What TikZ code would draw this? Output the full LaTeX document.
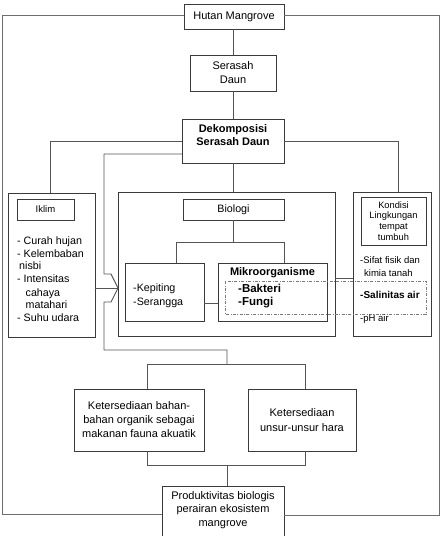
\documentclass[tikz,border=0pt]{standalone}
\usepackage{fontspec}
\setmainfont{Liberation Sans}
\definecolor{boxc}{HTML}{3A3A3A}
\definecolor{linec}{HTML}{555555}
\definecolor{framec}{HTML}{6E6E6E}
\definecolor{dashc}{HTML}{7A7A7A}
\begin{document}
\begin{tikzpicture}[x=1pt,y=-1pt,
  box/.style={draw=boxc, line width=0.9pt, inner sep=0pt, align=center,
    font=\fontsize{11}{14}\selectfont},
  conn/.style={draw=linec, line width=0.9pt},
  frame/.style={draw=framec, line width=0.9pt},
  lst/.style={inner sep=0pt, anchor=west, text height=7.5pt, text depth=2pt,
    font=\fontsize{10.7}{12}\selectfont},
  sml/.style={inner sep=0pt, anchor=west, text height=7pt, text depth=2pt,
    font=\fontsize{9.5}{11}\selectfont},
  lbl/.style={inner sep=0pt, align=center}
]
\useasboundingbox (0,0) rectangle (442,536);
\clip (0,0) rectangle (442,536);

% boxes
\node[box, minimum width=100pt, minimum height=25pt] (hutan) at (234,16.5) {Hutan Mangrove};
\node[box, minimum width=86pt, minimum height=36pt] (serasah) at (233,73) {Serasah\\Daun};
\node[box, minimum width=102pt, minimum height=44pt] (dekomp) at (233,141) {};
\node[lbl, font=\fontsize{11}{13}\selectfont\bfseries] (dekompt) at (233,135.5) {Dekomposisi\\Serasah Daun};

\node[box, minimum width=87pt, minimum height=144pt] (iklimo) at (51.5,265) {};
\node[box, minimum width=57pt, minimum height=21pt, font=\fontsize{9.5}{11}\selectfont] (iklim) at (45.5,209.5) {Iklim};

\node[box, minimum width=217pt, minimum height=144pt] (biolo) at (226.5,264) {};
\node[box, minimum width=101pt, minimum height=21pt, font=\fontsize{10.7}{12}\selectfont] (biologi) at (233.5,209.5) {Biologi};
\node[box, minimum width=79pt, minimum height=58pt] (kepit) at (164.5,292) {};
\node[box, minimum width=109pt, minimum height=58pt] (mikro) at (272.5,292) {};

\node[box, minimum width=78pt, minimum height=144pt] (kondo) at (392,264) {};
\node[box, minimum width=65pt, minimum height=48pt, font=\fontsize{9.3}{10.7}\selectfont] (kond) at (393.5,221) {Kondisi\\Lingkungan\\tempat\\tumbuh};

\node[box, minimum width=130pt, minimum height=62pt, font=\fontsize{11}{14}\selectfont] (bahan) at (139,420) {Ketersediaan bahan-\\bahan organik sebagai\\makanan fauna akuatik};
\node[box, minimum width=108pt, minimum height=62pt, font=\fontsize{11}{14.5}\selectfont] (unsur) at (302,420) {Ketersediaan\\unsur-unsur hara};
\node[box, minimum width=122pt, minimum height=64pt] (prod) at (223,518) {};
\node[lbl, font=\fontsize{11}{13.7}\selectfont] (prodt) at (223,510) {Produktivitas biologis\\perairan ekosistem\\mangrove};

% dash-dot rectangle
\draw[dashc, line width=0.8pt, dash pattern=on 3pt off 1.5pt on 0.8pt off 1.5pt] (225,281) rectangle (426,314);

% Iklim list
\node[lst] (i1) at (17,242) {- Curah hujan};
\node[lst] (i2) at (17,254.5) {- Kelembaban};
\node[lst] (i3) at (19,267) {nisbi};
\node[lst] (i4) at (17,280) {- Intensitas};
\node[lst] (i5) at (25.5,293.5) {cahaya};
\node[lst] (i6) at (25.5,306) {matahari};
\node[lst] (i7) at (17,318.5) {- Suhu udara};

% Kepiting text
\node[lst] (k1) at (133,289) {-Kepiting};
\node[lst] (k2) at (133,303) {-Serangga};

% Mikro text
\node[lbl, font=\fontsize{11}{13}\selectfont\bfseries] (m0) at (272.5,273) {Mikroorganisme};
\node[lst, font=\fontsize{11.5}{13}\selectfont\bfseries] (m1) at (238,290) {-Bakteri};
\node[lst, font=\fontsize{11.5}{13}\selectfont\bfseries] (m2) at (238,302.5) {-Fungi};

% Kondisi texts
\node[sml] (s1) at (360,261) {-Sifat fisik dan};
\node[sml] (s2) at (364,274) {kimia tanah};
\node[sml, font=\fontsize{10}{11}\selectfont\bfseries] (s3) at (360,296) {-Salinitas air};
\node[sml] (s4) at (360,319) {-pH air};

% coordinates
\coordinate (fl) at (2,15);
\coordinate (fr) at (439,15);
\coordinate (fbl) at (2,514);
\coordinate (fbr) at (439,515);
\coordinate (tip) at (118,288);

% frame
\draw[frame] (hutan.west |- fl) -- (fl) -- (fbl) -- (fbl -| prod.west);
\draw[frame] (hutan.east |- fr) -- (fr) -- (fbr) -- (fbr -| prod.east);

% connectors
\draw[conn] (hutan.south -| serasah) -- (serasah.north);
\draw[conn] (serasah.south) -- (dekomp.north);
\draw[conn] (dekomp.west) -- (50,141) -- (iklimo.north -| 50,0);
\draw[conn] (dekomp.east) -- (398,141) -- (kondo.north -| 398,0);
\draw[conn] (dekomp.south) -- (biolo.north -| dekomp.south);
\draw[conn] (182,154) -- (104,154) -- (104,274) -- (111,274) -- (tip) -- (111,302) -- (104,302) -- (104,350) -- (227,350) -- (227,364);
\draw[conn] (iklimo.east |- tip) -- (tip);
\draw[conn] (biologi.south -| 233,0) -- (233,242);
\draw[conn] (kepit.north -| 176,0) -- (176,242) -- (284,242) -- (mikro.north -| 284,0);
\draw[conn] (kepit.east |- 0,303) -- (mikro.west |- 0,303);
\draw[conn] (biolo.east |- 0,278) -- (kondo.west |- 0,278);
\draw[conn] (bahan.north -| 147,0) -- (147,364) -- (305,364) -- (unsur.north -| 305,0);
\draw[conn] (bahan.south -| 147,0) -- (147,465) -- (305,465) -- (unsur.south -| 305,0);
\draw[conn] (227,465) -- (prod.north -| 227,0);
\end{tikzpicture}
\end{document}
